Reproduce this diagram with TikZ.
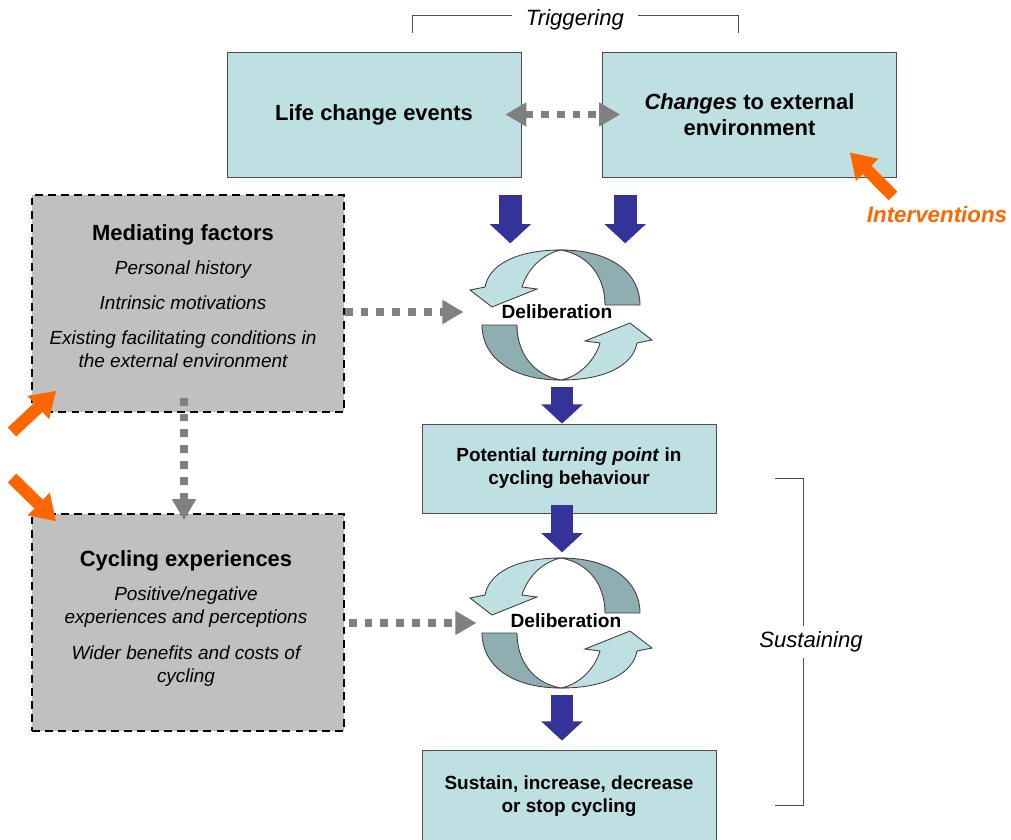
\documentclass[tikz,border=0pt]{standalone}
\usepackage{fontspec}
\setmainfont{Liberation Sans}
\usetikzlibrary{arrows.meta}
\usetikzlibrary{calc}
\usetikzlibrary{positioning}

\definecolor{boxcyan}{RGB}{190,224,227}
\definecolor{ribbondark}{RGB}{143,174,177}
\definecolor{navyarr}{RGB}{51,51,153}
\definecolor{dotgray}{RGB}{128,128,128}
\definecolor{medgray}{RGB}{192,192,192}
\definecolor{intorange}{RGB}{255,102,0}

\tikzset{
  evbox/.style={draw=black!70, fill=boxcyan, minimum width=5.88cm, align=center, font=\bfseries\fontsize{12.5}{15}\selectfont},
  medbox/.style={draw=black, line width=0.9pt, dash pattern=on 4.5pt off 3pt, fill=medgray, minimum width=6.24cm, minimum height=4.34cm},
  bluearr/.style={draw=navyarr, line width=13pt, -{Triangle[width=23pt,length=11pt]}},
  dotarr/.style={draw=dotgray, line width=4.5pt, dash pattern=on 4.5pt off 4.5pt, -{Triangle[width=13pt,length=12pt]}},
  orangearr/.style={draw=intorange, line width=7pt, -{Triangle[width=17pt,length=14pt]}},
  headtxt/.style={font=\bfseries\fontsize{12.5}{15}\selectfont},
  itemtxt/.style={font=\itshape\fontsize{10.8}{13}\selectfont, align=center},
  sidetxt/.style={font=\itshape\fontsize{12.6}{15}\selectfont},
  ribbon/.style={draw=black!75, line width=0.5pt},
}

\begin{document}
\begin{tikzpicture}[x=0.02cm, y=-0.02cm]
	\useasboundingbox (0,0) rectangle (1011,839);

	% triggering bracket
	\node[sidetxt] (trig) at (575,20) {Triggering};
	\draw[black!70] (412,33) -- (412,15) -- (512,15);
	\draw[black!70] (638,15) -- (738,15) -- (738,33);

	% top boxes
	\node[evbox, minimum height=2.5cm] (life) at (374,114.5) {Life change events};
	\node[evbox, minimum height=2.5cm] (change) at (749.5,114.5) {\textit{Changes} to external\\environment};
	\draw[dotarr, {Triangle[width=13pt,length=12pt]}-{Triangle[width=13pt,length=12pt]}] ($(life.east)+(-16,0)$) -- ($(change.west)+(18,0)$);

	% interventions
	\node[font=\bfseries\itshape\fontsize{12.7}{15}\selectfont, text=intorange] (interv) at (937,215) {Interventions};
	\coordinate (intA) at (893,196);
	\draw[orangearr] (intA) -- ($(change.south east)+(-47,-25)$);

	% mediating factors
	\node[medbox] (med) at (188,303.5) {};
	\node[headtxt] (medtitle) at (183,235) {Mediating factors};
	\node[itemtxt] (medA) at (183,270) {Personal history};
	\node[itemtxt] (medB) at (183,303) {Intrinsic motivations};
	\node[itemtxt] (medC) at (183,349.5) {Existing facilitating conditions in\\the external environment};

	% cycling experiences
	\node[medbox] (cyc) at (188,622.5) {};
	\node[headtxt] (cyctitle) at (186,561) {Cycling experiences};
	\node[itemtxt] (cycA) at (186,607.5) {Positive/negative\\experiences and perceptions};
	\node[itemtxt] (cycB) at (186,666.5) {Wider benefits and costs of\\cycling};

	\coordinate (intB) at (12,432);
	\coordinate (intC) at (12,478);
	\draw[orangearr] (intB) -- ($(med.south west)+(25,-22)$);
	\draw[orangearr] (intC) -- ($(cyc.north west)+(25,8)$);
	\draw[dotarr] ($(med.south)+(-4,-15)$) -- ($(cyc.north)+(-4,7)$);

	% deliberation cycles
	\foreach \cy in {315,623}{
		\begin{scope}[shift={(561,\cy)}]
			\filldraw[ribbon, fill=ribbondark] (0,-65) .. controls (50,-65) and (79,-42) .. (79,-10) -- (44,-10) .. controls (44,-38) and (28,-60) .. (0,-65) -- cycle;
			\filldraw[ribbon, fill=boxcyan] (0,-65) .. controls (-45,-65) and (-72,-50) .. (-76,-28) -- (-91,-25) -- (-69,-8) -- (-24,-26) -- (-39,-28) .. controls (-33,-48) and (-16,-62) .. (0,-65) -- cycle;
			\begin{scope}[rotate=180]
				\filldraw[ribbon, fill=ribbondark] (0,-65) .. controls (50,-65) and (79,-42) .. (79,-10) -- (44,-10) .. controls (44,-38) and (28,-60) .. (0,-65) -- cycle;
				\filldraw[ribbon, fill=boxcyan] (0,-65) .. controls (-45,-65) and (-72,-50) .. (-76,-28) -- (-91,-25) -- (-69,-8) -- (-24,-26) -- (-39,-28) .. controls (-33,-48) and (-16,-62) .. (0,-65) -- cycle;
			\end{scope}
		\end{scope}
	}
	\node[font=\bfseries\fontsize{10.9}{13}\selectfont] (delibA) at (557,312) {Deliberation};
	\node[font=\bfseries\fontsize{10.9}{13}\selectfont] (delibB) at (566,621) {Deliberation};

	% lower boxes
	\node[evbox, minimum height=1.78cm, font=\bfseries\fontsize{10.8}{13}\selectfont] (turn) at (569,468.5) {Potential \textit{turning point} in\\cycling behaviour};
	\node[evbox, minimum height=1.84cm, font=\bfseries\fontsize{10.8}{13}\selectfont] (sustain) at (569,796) {Sustain, increase, decrease\\or stop cycling};

	% connectors
	\draw[dotarr] (med.east |- delibA) -- ($(delibA.west)+(-32,0)$);
	\draw[dotarr] ($(cyc.east |- delibB)+(4,2)$) -- ($(delibB.west)+(-28,2)$);
	\draw[bluearr] ($(life.south east)+(-11,18)$) -- ($(life.south east)+(-11,66)$);
	\draw[bluearr] ($(change.south west)+(23,18)$) -- ($(change.south west)+(23,66)$);
	\draw[bluearr] ($(turn.north)+(-7,-37)$) -- ($(turn.north)+(-7,0)$);
	\draw[bluearr] ($(turn.south)+(-7,-8)$) -- ($(turn.south)+(-7,39)$);
	\draw[bluearr] ($(sustain.north)+(-7,-55)$) -- ($(sustain.north)+(-7,-9)$);

	% sustaining bracket
	\draw[black!70] (775,478) -- (803,478) -- (803,805) -- (775,805);
	\node[sidetxt, fill=white] (sust) at (811,642) {Sustaining};
\end{tikzpicture}
\end{document}
